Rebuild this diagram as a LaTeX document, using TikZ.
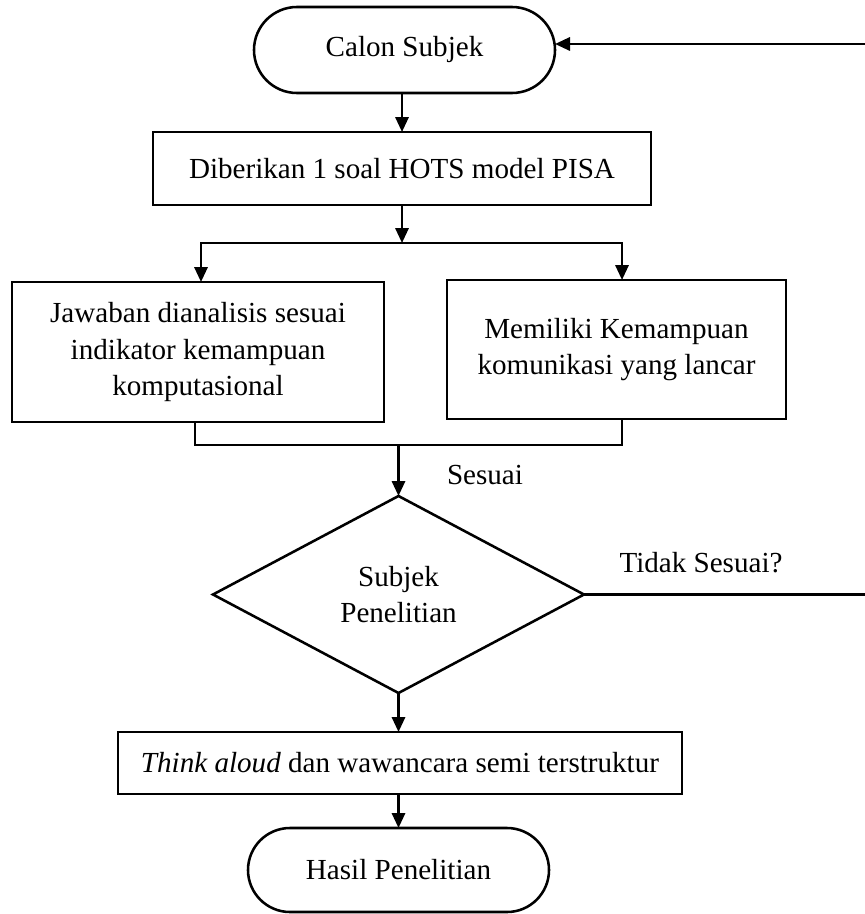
\documentclass[tikz,border=0pt]{standalone}
\usepackage{fontspec}
\setmainfont{Liberation Serif}
\usetikzlibrary{shapes.misc,shapes.geometric,arrows.meta}
\begin{document}
\begin{tikzpicture}[x=0.567pt,y=-0.567pt,line width=1.45pt,
  every node/.style={font=\fontsize{16.5}{20.5}\selectfont,inner sep=0pt,outer sep=0pt,align=center},
  term/.style={draw,rounded rectangle,minimum width=301*0.567pt,minimum height=86*0.567pt},
  procbox/.style={draw,rectangle},
  decision/.style={draw,diamond,minimum width=371*0.567pt,minimum height=197*0.567pt},
  arr/.style={-{Triangle[length=8.5pt,width=7.5pt]}}]
\useasboundingbox (0,0) rectangle (865,914);
% nodes
\node[term] (calon) at (404.5,50) {Calon Subjek};
\node[procbox,minimum width=498*0.567pt,minimum height=73*0.567pt] (box1) at (402,168.5) {Diberikan 1 soal HOTS model PISA};
\node[procbox,minimum width=372*0.567pt,minimum height=140*0.567pt] (boxL) at (198,352) {Jawaban dianalisis sesuai\\indikator kemampuan\\komputasional};
\node[procbox,minimum width=339*0.567pt,minimum height=139*0.567pt] (boxR) at (616.5,349.5) {Memiliki Kemampuan\\komunikasi yang lancar};
\node[decision] (dia) at (398.5,594.5) {Subjek\\Penelitian};
\node[procbox,minimum width=564*0.567pt,minimum height=62*0.567pt] (box3) at (400,763) {\textit{Think aloud} dan wawancara semi terstruktur};
\node[term,minimum height=84*0.567pt] (hasil) at (398.5,870) {Hasil Penelitian};
\node (sesuai) at (485,475) {Sesuai};
\node (tidak) at (701,563) {Tidak Sesuai?};
% coordinates
\coordinate (retR) at (865,44);
\coordinate (split) at (402,243);
\coordinate (sl) at (201,243);
\coordinate (sr) at (622,243);
\coordinate (jl) at (195,445);
\coordinate (jr) at (622,445);
\coordinate (noR) at (865,594.5);
% connectors
\draw[arr] (retR) -- (retR -| calon.east);
\draw[arr] (box1.north |- calon.south) -- (box1.north);
\draw[arr] (box1.south) -- (split);
\draw[arr] (split) -| (sl |- boxL.north);
\draw[arr] (split) -| (sr |- boxR.north);
\draw (jl |- boxL.south) -- (jl) -- (jr) -- (jr |- boxR.south);
\draw[arr] (dia.north |- jl) -- (dia.north);
\draw (dia.east) -- (noR);
\draw[arr] (dia.south) -- (dia.south |- box3.north);
\draw[arr] (hasil.north |- box3.south) -- (hasil.north);
\end{tikzpicture}
\end{document}
